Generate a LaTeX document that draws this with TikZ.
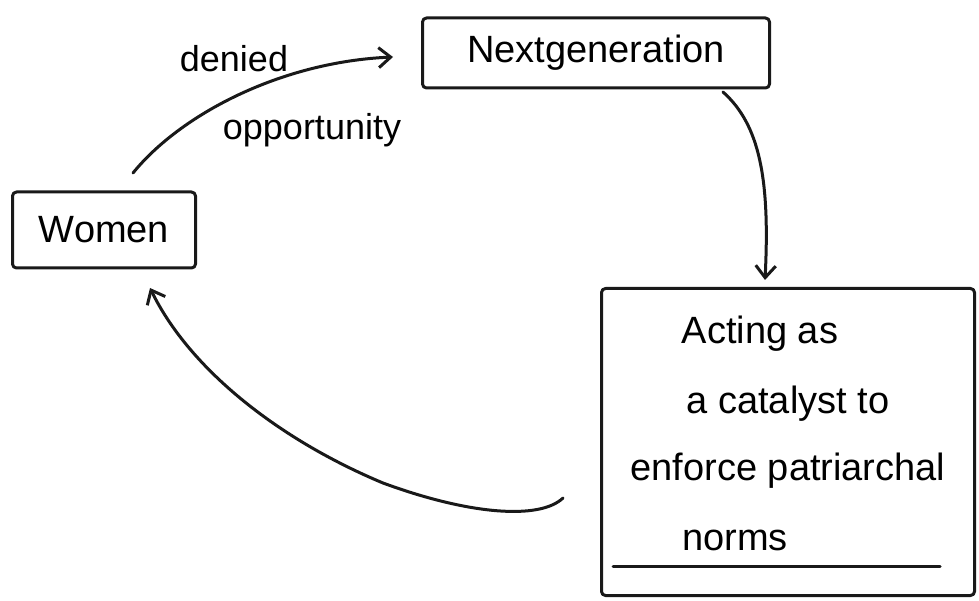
\documentclass[tikz,border=0pt]{standalone}
\usepackage{fontspec}
\setmainfont{Liberation Sans}
\usetikzlibrary{arrows.meta}

\tikzset{
  ink/.style={line width=3pt, draw=black!90, line cap=round, line join=round},
  boxnode/.style={ink, rounded corners=4pt, inner sep=0pt, align=center,
    font=\fontsize{38}{44}\selectfont},
  boxtext/.style={font=\fontsize{38}{44}\selectfont, inner sep=0pt, anchor=base},
  labeltext/.style={font=\fontsize{36}{40}\selectfont, inner sep=0pt, anchor=base},
  flow/.style={ink, -{Straight Barb[length=12pt, width=20pt, line width=3pt]}}
}

\begin{document}
\begin{tikzpicture}[x=1pt, y=-1pt]
  \useasboundingbox (0,0) rectangle (979,601);

  % boxes of the cycle
  \node[boxnode, minimum width=183pt, minimum height=76pt] (women) at (104,230) {Women};
  \node[boxnode, minimum width=347pt, minimum height=70pt] (nextgen) at (596,53) {Nextgeneration};
  \node[boxnode, minimum width=373pt, minimum height=307pt] (catalyst) at (788,442) {};

  % text of the large box, one line at a time
  \node[boxtext] (line1) at (760,343) {Acting as};
  \node[boxtext] (line2) at (788,413) {a catalyst to};
  \node[boxtext] (line3) at (788,480) {enforce patriarchal};
  \node[boxtext] (line4) at (735,550) {norms};
  % second stroke under the last line
  \draw[ink] (613,566) -- (940,566);

  % women -> next generation
  \coordinate (wstart) at (133,173);
  \coordinate (nleft) at (393,57);
  \draw[flow] (wstart) .. controls (180,115) and (280,62) .. (nleft);
  \node[labeltext] (denied) at (234,72) {denied};
  \node[labeltext] (opp) at (312,140) {opportunity};

  % next generation -> catalyst box
  \coordinate (nbottom) at (723,92);
  \coordinate (ctop) at (765,280);
  \draw[flow] (nbottom) .. controls (760,125) and (770,180) .. (ctop);

  % catalyst box -> women
  \coordinate (cstart) at (563,498);
  \coordinate (wbottom) at (150,288);
  \draw[flow] (cstart) .. controls (540,520) and (470,515) .. (383,483)
    .. controls (280,440) and (190,370) .. (wbottom);
\end{tikzpicture}
\end{document}
